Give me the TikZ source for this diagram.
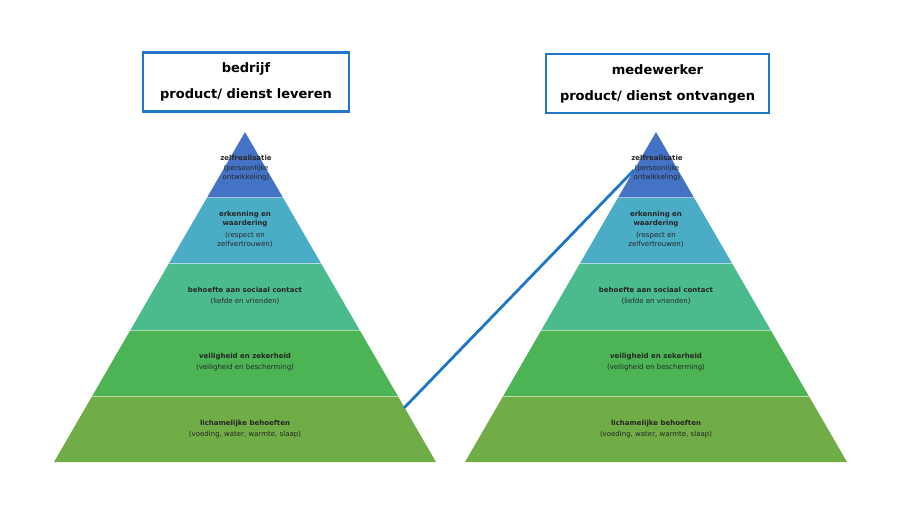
\documentclass[tikz,border=0pt]{standalone}
\usepackage{fontspec}
\setmainfont{DejaVu Sans}
\usepackage{tikz}
\usetikzlibrary{calc}
\definecolor{laagA}{HTML}{4472C4}
\definecolor{laagB}{HTML}{4BACC6}
\definecolor{laagC}{HTML}{4BBB8E}
\definecolor{laagD}{HTML}{4CB455}
\definecolor{laagE}{HTML}{70AD47}
\definecolor{kader}{HTML}{1F76C6}
\tikzset{
	scheiding/.style={draw=white, draw opacity=.55, line width=1pt},
	laagtekst/.style={align=center, text=black!85, inner sep=0pt,
		font=\fontsize{7}{9}\selectfont},
	kopbox/.style={draw=kader, line width=2.3pt, fill=white, align=center,
		minimum height=59pt, font=\bfseries\fontsize{13}{26}\selectfont},
	verbinding/.style={draw=kader, line width=2.8pt}
}
\newcommand{\piramide}[2]{%
	\foreach \k/\kleur in {0/laagA,1/laagB,2/laagC,3/laagD,4/laagE}
		\fill[\kleur] ({#1-38.2*\k},{132+66*\k}) -- ({#1+38.2*\k},{132+66*\k})
			-- ({#1+38.2*(\k+1)},{198+66*\k}) -- ({#1-38.2*(\k+1)},{198+66*\k}) -- cycle;
	\foreach \k in {1,...,4}
		\draw[scheiding] ({#1-38.2*\k},{132+66*\k}) -- ({#1+38.2*\k},{132+66*\k});
	\node[laagtekst] (#2-1) at (#1+1,168) {\textbf{zelfrealisatie}\\[1pt](persoonlijke\\ontwikkeling)};
	\node[laagtekst] (#2-2) at (#1,229) {\textbf{erkenning en}\\\textbf{waardering}\\[3pt](respect en\\zelfvertrouwen)};
	\node[laagtekst] (#2-3) at (#1,296) {\textbf{behoefte aan sociaal contact}\\[2pt](liefde en vrienden)};
	\node[laagtekst] (#2-4) at (#1,362) {\textbf{veiligheid en zekerheid}\\[2pt](veiligheid en bescherming)};
	\node[laagtekst] (#2-5) at (#1,429) {\textbf{lichamelijke behoeften}\\[2pt](voeding, water, warmte, slaap)};
}

\begin{document}
\begin{tikzpicture}[x=1pt,y=-1pt]
	\useasboundingbox (0,0) rectangle (904,510);
	\piramide{245}{lev}
	\piramide{656}{ont}
	\node[kopbox, minimum width=206pt] (bedrijf) at (246,82) {bedrijf\\product/ dienst leveren};
	\node[kopbox, minimum width=223pt] (medewerker) at (657.5,83.5) {medewerker\\product/ dienst ontvangen};
	\coordinate (vanuit) at (404,408);
	\coordinate (naar) at (634,170);
	\draw[verbinding] (vanuit) -- (naar);
\end{tikzpicture}
\end{document}
